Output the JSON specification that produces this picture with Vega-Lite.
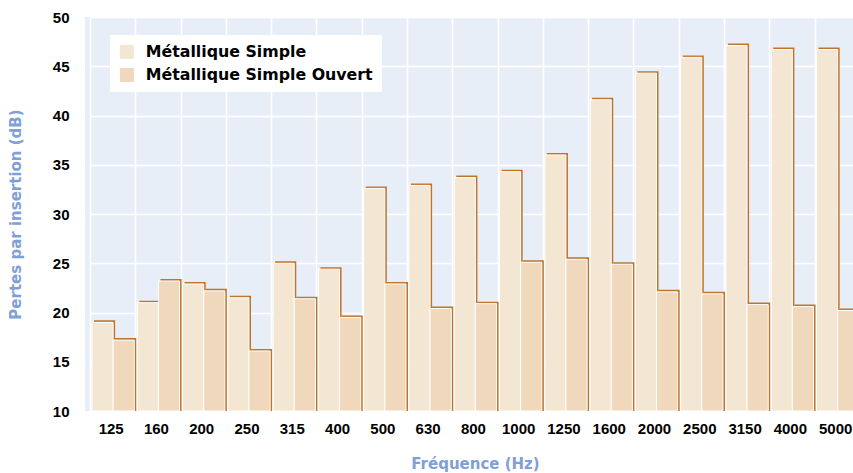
{
  "$schema": "https://vega.github.io/schema/vega-lite/v6.json",
  "width": 768,
  "height": 394,
  "autosize": {"type": "none"},
  "padding": {"left": 85, "top": 17, "right": 0, "bottom": 62},
  "background": "white",
  "config": {"view": {"fill": "#E8EEF8", "stroke": null}, "font": "Liberation Sans"},
  "data": {"values": [
    {"freq": "125", "series": "Métallique Simple", "value": 19.0},
    {"freq": "125", "series": "Métallique Simple Ouvert", "value": 17.2},
    {"freq": "160", "series": "Métallique Simple", "value": 21.0},
    {"freq": "160", "series": "Métallique Simple Ouvert", "value": 23.2},
    {"freq": "200", "series": "Métallique Simple", "value": 22.9},
    {"freq": "200", "series": "Métallique Simple Ouvert", "value": 22.2},
    {"freq": "250", "series": "Métallique Simple", "value": 21.5},
    {"freq": "250", "series": "Métallique Simple Ouvert", "value": 16.1},
    {"freq": "315", "series": "Métallique Simple", "value": 25.0},
    {"freq": "315", "series": "Métallique Simple Ouvert", "value": 21.4},
    {"freq": "400", "series": "Métallique Simple", "value": 24.4},
    {"freq": "400", "series": "Métallique Simple Ouvert", "value": 19.5},
    {"freq": "500", "series": "Métallique Simple", "value": 32.6},
    {"freq": "500", "series": "Métallique Simple Ouvert", "value": 22.9},
    {"freq": "630", "series": "Métallique Simple", "value": 32.9},
    {"freq": "630", "series": "Métallique Simple Ouvert", "value": 20.4},
    {"freq": "800", "series": "Métallique Simple", "value": 33.7},
    {"freq": "800", "series": "Métallique Simple Ouvert", "value": 20.9},
    {"freq": "1000", "series": "Métallique Simple", "value": 34.3},
    {"freq": "1000", "series": "Métallique Simple Ouvert", "value": 25.1},
    {"freq": "1250", "series": "Métallique Simple", "value": 36.0},
    {"freq": "1250", "series": "Métallique Simple Ouvert", "value": 25.4},
    {"freq": "1600", "series": "Métallique Simple", "value": 41.6},
    {"freq": "1600", "series": "Métallique Simple Ouvert", "value": 24.9},
    {"freq": "2000", "series": "Métallique Simple", "value": 44.3},
    {"freq": "2000", "series": "Métallique Simple Ouvert", "value": 22.1},
    {"freq": "2500", "series": "Métallique Simple", "value": 45.9},
    {"freq": "2500", "series": "Métallique Simple Ouvert", "value": 21.9},
    {"freq": "3150", "series": "Métallique Simple", "value": 47.1},
    {"freq": "3150", "series": "Métallique Simple Ouvert", "value": 20.8},
    {"freq": "4000", "series": "Métallique Simple", "value": 46.7},
    {"freq": "4000", "series": "Métallique Simple Ouvert", "value": 20.6},
    {"freq": "5000", "series": "Métallique Simple", "value": 46.7},
    {"freq": "5000", "series": "Métallique Simple Ouvert", "value": 20.2}
  ]},
  "encoding": {
    "x": {
      "field": "freq", "type": "nominal", "sort": null,
      "scale": {"range": [5.5, 775.3], "paddingInner": 0, "paddingOuter": 0},
      "axis": {
        "title": "Fréquence (Hz)",
        "bandPosition": 0, "labelOffset": -2,
        "grid": true, "gridColor": "white", "gridWidth": 1.5,
        "ticks": false, "domain": false, "labelAngle": 0,
        "labelFont": "Liberation Sans", "labelFontSize": 15, "labelFontWeight": "bold", "labelColor": "black",
        "labelPadding": 10,
        "titleFont": "DejaVu Sans", "titleFontSize": 15, "titleFontWeight": "bold", "titleColor": "#7F9FD6",
        "titleX": 390, "titleY": 52, "titleBaseline": "middle", "titleAlign": "center"
      }
    },
    "y": {
      "field": "value", "type": "quantitative",
      "scale": {"domain": [10, 50], "nice": false, "zero": false},
      "axis": {
        "title": "Pertes par insertion (dB)",
        "values": [10, 15, 20, 25, 30, 35, 40, 45, 50],
        "grid": true, "gridColor": "white", "gridWidth": 1.5,
        "ticks": false, "domain": false,
        "labelFont": "Liberation Sans", "labelFontSize": 15, "labelFontWeight": "bold", "labelColor": "black",
        "labelPadding": 16,
        "titleFont": "DejaVu Sans", "titleFontSize": 15, "titleFontWeight": "bold", "titleColor": "#7F9FD6",
        "titleX": -70, "titleY": 197, "titleAngle": -90, "titleBaseline": "middle", "titleAlign": "center"
      }
    },
    "y2": {"datum": 10}
  },
  "resolve": {"scale": {"xOffset": "independent"}},
  "layer": [
    {
      "mark": {"type": "bar", "fill": "#BF7427", "yOffset": -2},
      "encoding": {
        "xOffset": {"field": "series", "sort": null, "scale": {"paddingInner": 0, "paddingOuter": 0.07, "range": [2, 47.28]}}
      }
    },
    {
      "mark": {"type": "bar", "stroke": "white", "strokeWidth": 1, "fillOpacity": 1},
      "encoding": {
        "xOffset": {"field": "series", "sort": null, "scale": {"paddingInner": 0, "paddingOuter": 0.07, "range": [0, 45.28]}},
        "color": {
          "field": "series", "type": "nominal", "sort": null,
          "scale": {"domain": ["Métallique Simple", "Métallique Simple Ouvert"], "range": ["#F3E7D3", "#F0D8BC"]},
          "legend": {
            "orient": "none", "legendX": 25, "legendY": 18, "title": null,
            "fillColor": "white", "padding": 9,
            "symbolType": "square", "symbolSize": 196, "symbolStrokeWidth": 0, "symbolOpacity": 1,
            "labelFont": "DejaVu Sans", "labelFontWeight": "bold", "labelFontSize": 15.8, "labelColor": "black",
            "labelLimit": 400, "rowPadding": 6, "labelOffset": 11
          }
        }
      }
    }
  ]
}
